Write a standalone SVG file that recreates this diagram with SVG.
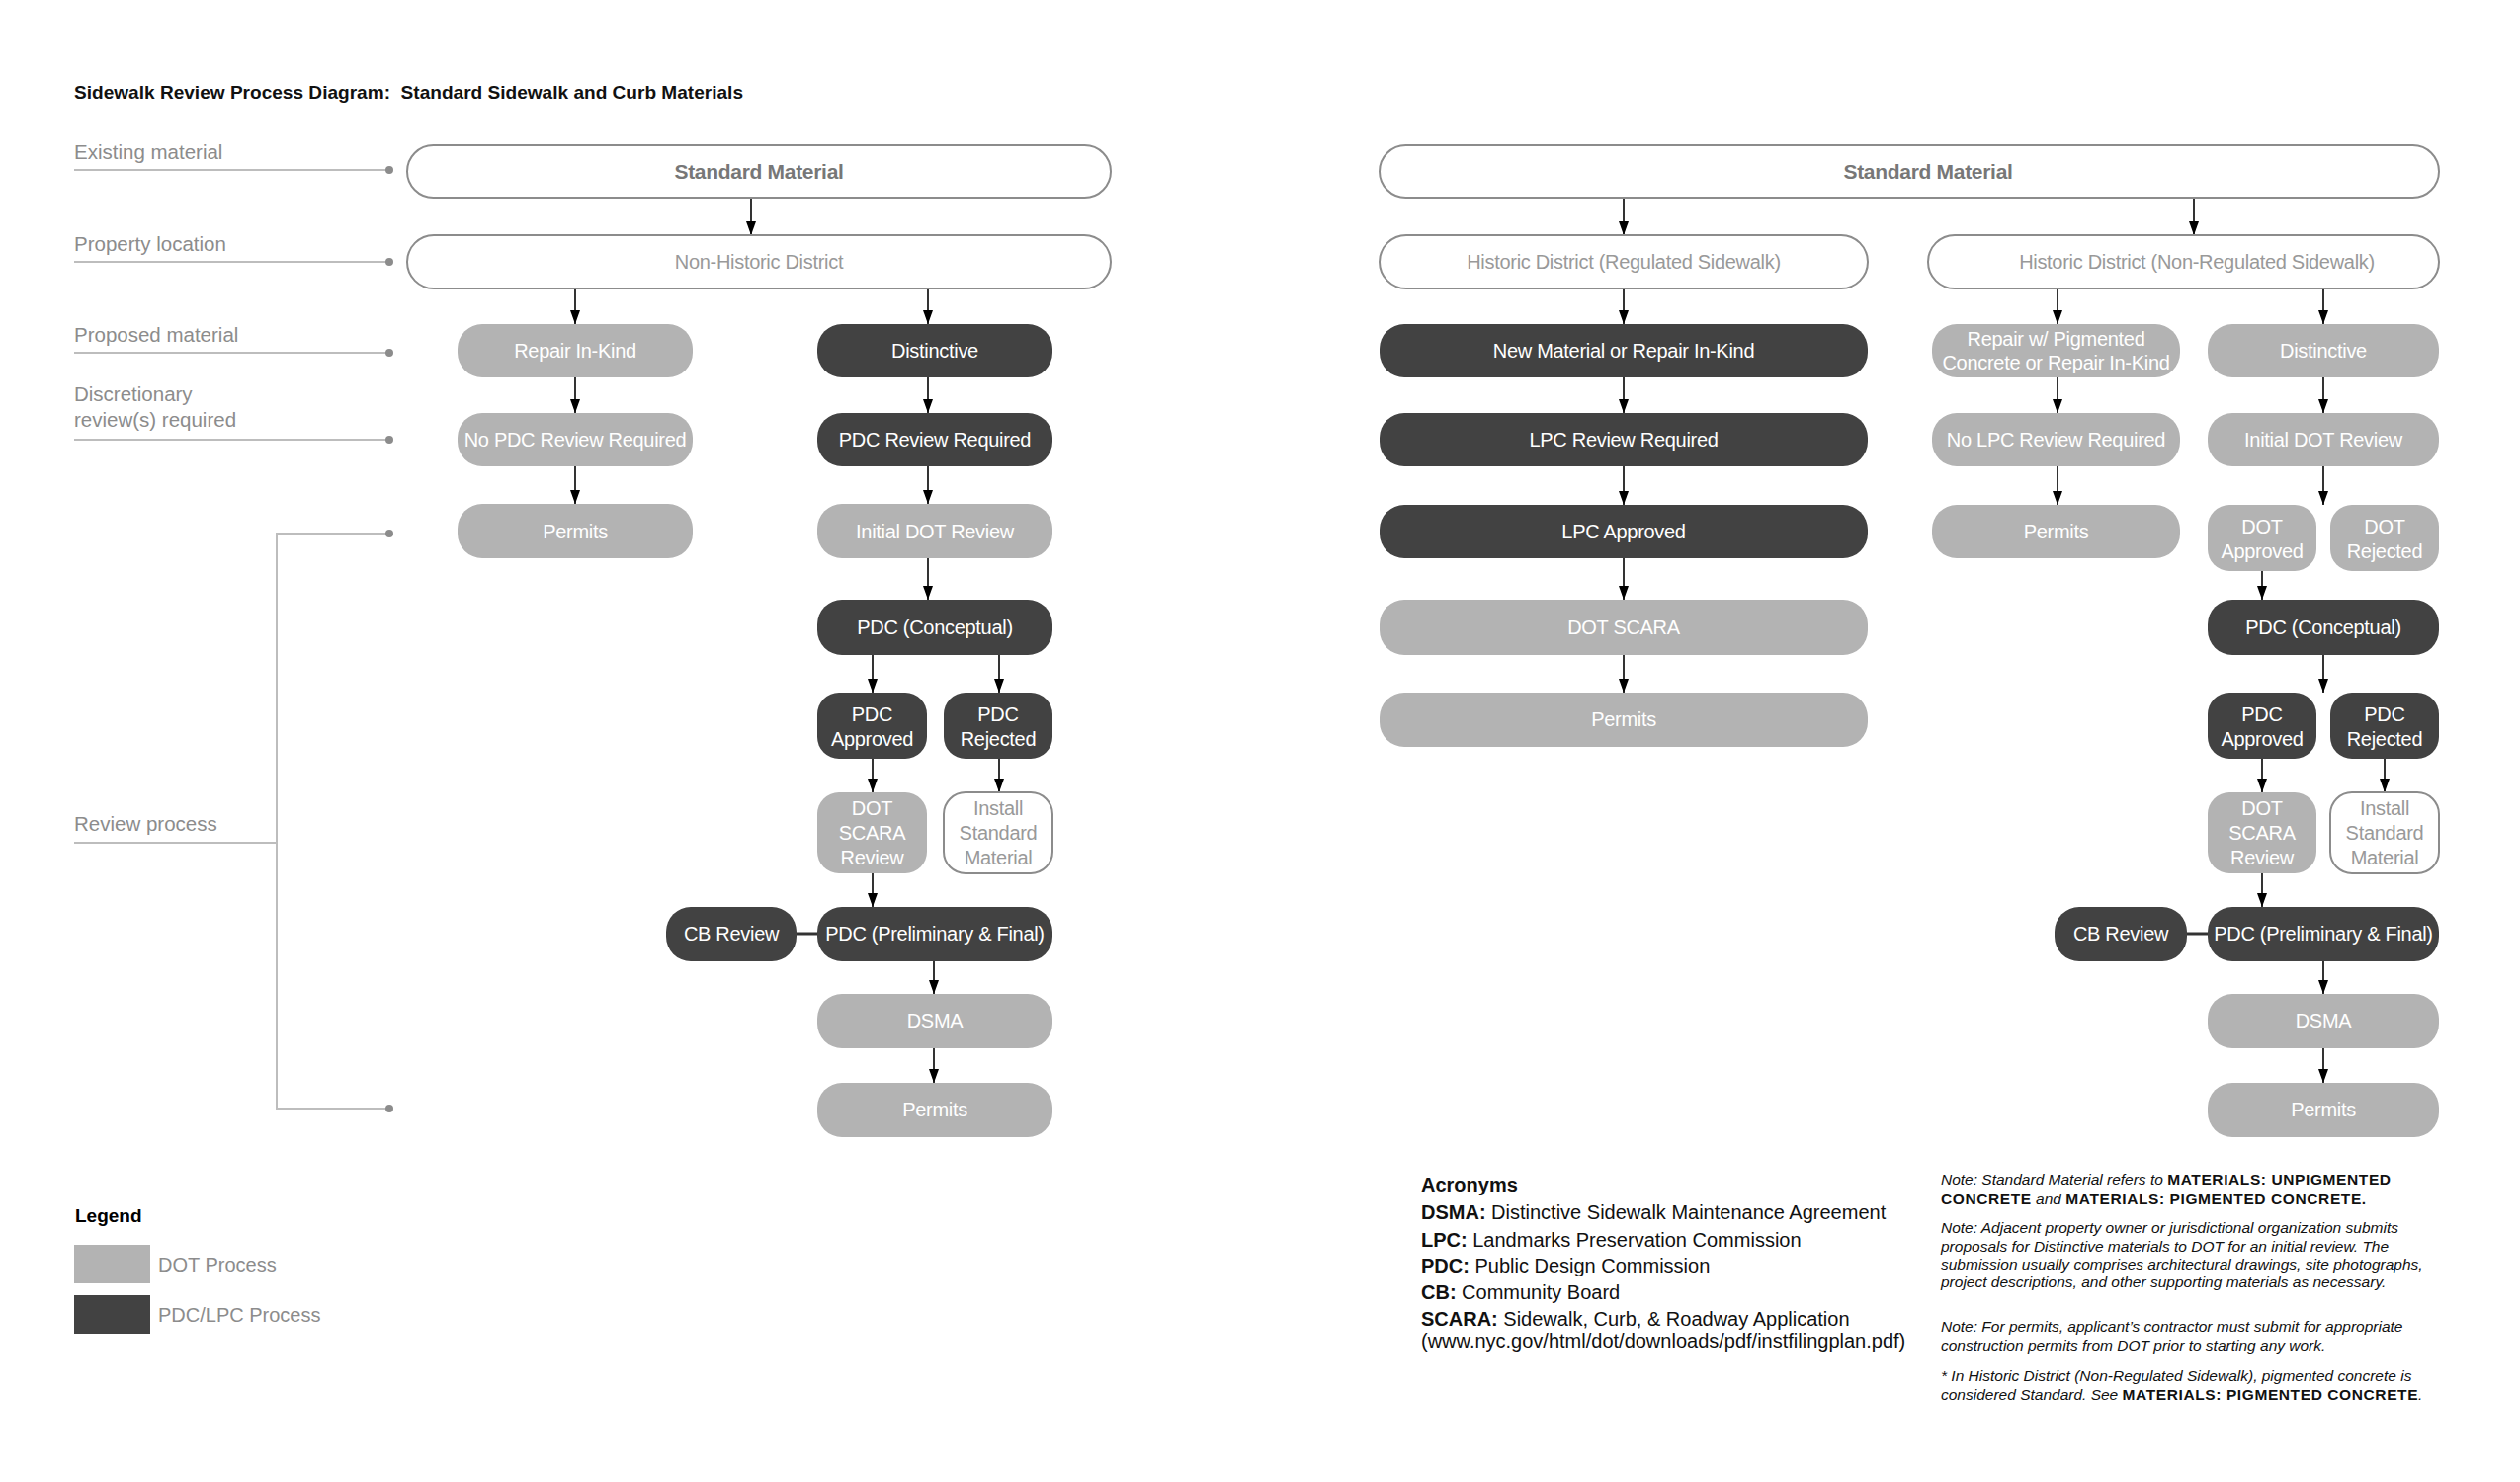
<svg xmlns="http://www.w3.org/2000/svg" width="2550" height="1500" viewBox="0 0 2550 1500">
<defs>
<marker id="ah" viewBox="0 0 14 10" markerWidth="14" markerHeight="10" refX="14" refY="5" orient="auto" markerUnits="userSpaceOnUse"><path d="M0,0 L14,5 L0,10 z" fill="#000"/></marker>
<style>
text{font-family:"Liberation Sans",Arial,sans-serif}
.title{font-size:19px;font-weight:bold;fill:#111}
.lbl{font-size:20.5px;fill:#8c8c8c}
.gl{stroke:#bdbdbd;stroke-width:2;fill:none}
.dot{fill:#8c8c8c}
.g rect{fill:#b3b3b3}
.d rect{fill:#424242}
.o rect{fill:#fff;stroke:#8c8c8c;stroke-width:2}
.t{font-size:20px;text-anchor:middle;fill:#fff;letter-spacing:-0.3px}
.o .t{fill:#999}
.o .tb{font-weight:bold;fill:#777;font-size:21px}
.arr{stroke:#000;stroke-width:1.6;fill:none;marker-end:url(#ah)}
.cb{stroke:#333;stroke-width:3}
.leg{font-size:20px;fill:#8c8c8c}
.hd{font-size:19px;font-weight:bold;fill:#000}
.ac{font-size:20px;fill:#111}
.ac tspan.b{font-weight:bold}
.nt{font-size:15.5px;font-style:italic;fill:#111}
.nt tspan.b{font-style:normal;font-weight:bold;letter-spacing:0.6px}
</style>
</defs>
<rect width="2550" height="1500" fill="#fff"/>

<text class="title" x="75" y="100" textLength="677" lengthAdjust="spacingAndGlyphs">Sidewalk Review Process Diagram:&#160; Standard Sidewalk and Curb Materials</text>

<g id="row-labels">
<text class="lbl" x="75" y="161">Existing material</text>
<line class="gl" x1="75" y1="172" x2="394" y2="172"/><circle class="dot" cx="394" cy="172" r="4"/>
<text class="lbl" x="75" y="254">Property location</text>
<line class="gl" x1="75" y1="265" x2="394" y2="265"/><circle class="dot" cx="394" cy="265" r="4"/>
<text class="lbl" x="75" y="346">Proposed material</text>
<line class="gl" x1="75" y1="357" x2="394" y2="357"/><circle class="dot" cx="394" cy="357" r="4"/>
<text class="lbl" x="75" y="406">Discretionary</text>
<text class="lbl" x="75" y="432">review(s) required</text>
<line class="gl" x1="75" y1="445" x2="394" y2="445"/><circle class="dot" cx="394" cy="445" r="4"/>
<text class="lbl" x="75" y="841">Review process</text>
<line class="gl" x1="75" y1="853" x2="280" y2="853"/>
<path class="gl" d="M394,540 H280 V1122 H394"/>
<circle class="dot" cx="394" cy="540" r="4"/><circle class="dot" cx="394" cy="1122" r="4"/>
</g>

<g id="connectors">
<line class="arr" x1="760" y1="200" x2="760" y2="238"/>
<line class="arr" x1="582" y1="292" x2="582" y2="328"/>
<line class="arr" x1="939" y1="292" x2="939" y2="328"/>
<line class="arr" x1="582" y1="382" x2="582" y2="418"/>
<line class="arr" x1="939" y1="382" x2="939" y2="418"/>
<line class="arr" x1="582" y1="472" x2="582" y2="510"/>
<line class="arr" x1="939" y1="472" x2="939" y2="510"/>
<line class="arr" x1="939" y1="565" x2="939" y2="607"/>
<line class="arr" x1="883" y1="663" x2="883" y2="701"/>
<line class="arr" x1="1011" y1="663" x2="1011" y2="701"/>
<line class="arr" x1="883" y1="768" x2="883" y2="802"/>
<line class="arr" x1="1011" y1="768" x2="1011" y2="802"/>
<line class="arr" x1="883" y1="884" x2="883" y2="918"/>
<line class="cb" x1="806" y1="945" x2="827" y2="945"/>
<line class="arr" x1="945" y1="973" x2="945" y2="1006"/>
<line class="arr" x1="945" y1="1061" x2="945" y2="1096"/>

<line class="arr" x1="1643" y1="200" x2="1643" y2="238"/>
<line class="arr" x1="2220" y1="200" x2="2220" y2="238"/>
<line class="arr" x1="1643" y1="292" x2="1643" y2="328"/>
<line class="arr" x1="2082" y1="292" x2="2082" y2="328"/>
<line class="arr" x1="2351" y1="292" x2="2351" y2="328"/>
<line class="arr" x1="1643" y1="382" x2="1643" y2="418"/>
<line class="arr" x1="2082" y1="382" x2="2082" y2="418"/>
<line class="arr" x1="2351" y1="382" x2="2351" y2="418"/>
<line class="arr" x1="1643" y1="472" x2="1643" y2="511"/>
<line class="arr" x1="2082" y1="472" x2="2082" y2="511"/>
<line class="arr" x1="2351" y1="472" x2="2351" y2="511"/>
<line class="arr" x1="1643" y1="565" x2="1643" y2="607"/>
<line class="arr" x1="2289" y1="578" x2="2289" y2="607"/>
<line class="arr" x1="1643" y1="663" x2="1643" y2="701"/>
<line class="arr" x1="2351" y1="663" x2="2351" y2="701"/>
<line class="arr" x1="2289" y1="768" x2="2289" y2="802"/>
<line class="arr" x1="2413" y1="768" x2="2413" y2="802"/>
<line class="arr" x1="2289" y1="884" x2="2289" y2="918"/>
<line class="cb" x1="2213" y1="945" x2="2234" y2="945"/>
<line class="arr" x1="2351" y1="973" x2="2351" y2="1006"/>
<line class="arr" x1="2351" y1="1061" x2="2351" y2="1096"/>
</g>

<!-- Left section nodes -->
<g id="n-std-l" class="o"><rect x="412" y="147" width="712" height="53" rx="26.5"/><text class="t tb" x="768" y="181">Standard Material</text></g>
<g id="n-nonhist" class="o"><rect x="412" y="238" width="712" height="54" rx="27"/><text class="t" x="768" y="272">Non-Historic District</text></g>
<g id="n-repair-l" class="g"><rect x="463" y="328" width="238" height="54" rx="25"/><text class="t" x="582" y="362">Repair In-Kind</text></g>
<g id="n-dist-l" class="d"><rect x="827" y="328" width="238" height="54" rx="25"/><text class="t" x="946" y="362">Distinctive</text></g>
<g id="n-nopdc" class="g"><rect x="463" y="418" width="238" height="54" rx="25"/><text class="t" x="582" y="452">No PDC Review Required</text></g>
<g id="n-pdcreq" class="d"><rect x="827" y="418" width="238" height="54" rx="25"/><text class="t" x="946" y="452">PDC Review Required</text></g>
<g id="n-permits-l1" class="g"><rect x="463" y="510" width="238" height="55" rx="25"/><text class="t" x="582" y="545">Permits</text></g>
<g id="n-initdot-l" class="g"><rect x="827" y="510" width="238" height="55" rx="25"/><text class="t" x="946" y="545">Initial DOT Review</text></g>
<g id="n-conc-l" class="d"><rect x="827" y="607" width="238" height="56" rx="25"/><text class="t" x="946" y="642">PDC (Conceptual)</text></g>
<g id="n-pdcappr-l" class="d"><rect x="827" y="701" width="111" height="67" rx="22"/><text class="t" x="882.5" y="730">PDC</text><text class="t" x="882.5" y="755">Approved</text></g>
<g id="n-pdcrej-l" class="d"><rect x="955" y="701" width="110" height="67" rx="22"/><text class="t" x="1010" y="730">PDC</text><text class="t" x="1010" y="755">Rejected</text></g>
<g id="n-dotscara-l" class="g"><rect x="827" y="802" width="111" height="82" rx="22"/><text class="t" x="882.5" y="825">DOT</text><text class="t" x="882.5" y="850">SCARA</text><text class="t" x="882.5" y="875">Review</text></g>
<g id="n-install-l" class="o"><rect x="955" y="802" width="110" height="82" rx="22"/><text class="t" x="1010" y="825">Install</text><text class="t" x="1010" y="850">Standard</text><text class="t" x="1010" y="875">Material</text></g>
<g id="n-cb-l" class="d"><rect x="674" y="918" width="132" height="55" rx="25"/><text class="t" x="740" y="952">CB Review</text></g>
<g id="n-prelim-l" class="d"><rect x="827" y="918" width="238" height="55" rx="25"/><text class="t" x="946" y="952">PDC (Preliminary &amp; Final)</text></g>
<g id="n-dsma-l" class="g"><rect x="827" y="1006" width="238" height="55" rx="25"/><text class="t" x="946" y="1040">DSMA</text></g>
<g id="n-permits-l2" class="g"><rect x="827" y="1096" width="238" height="55" rx="25"/><text class="t" x="946" y="1130">Permits</text></g>

<!-- Right section nodes -->
<g id="n-std-r" class="o"><rect x="1396" y="147" width="1072" height="53" rx="26.5"/><text class="t tb" x="1951" y="181">Standard Material</text></g>
<g id="n-reg" class="o"><rect x="1396" y="238" width="494" height="54" rx="27"/><text class="t" x="1643" y="272">Historic District (Regulated Sidewalk)</text></g>
<g id="n-nonreg" class="o"><rect x="1951" y="238" width="517" height="54" rx="27"/><text class="t" x="2223" y="272">Historic District (Non-Regulated Sidewalk)</text></g>
<g id="n-newmat" class="d"><rect x="1396" y="328" width="494" height="54" rx="25"/><text class="t" x="1643" y="362">New Material or Repair In-Kind</text></g>
<g id="n-lpcreq" class="d"><rect x="1396" y="418" width="494" height="54" rx="25"/><text class="t" x="1643" y="452">LPC Review Required</text></g>
<g id="n-lpcappr" class="d"><rect x="1396" y="511" width="494" height="54" rx="25"/><text class="t" x="1643" y="545">LPC Approved</text></g>
<g id="n-dotscara-r1" class="g"><rect x="1396" y="607" width="494" height="56" rx="25"/><text class="t" x="1643" y="642">DOT SCARA</text></g>
<g id="n-permits-r1" class="g"><rect x="1396" y="701" width="494" height="55" rx="25"/><text class="t" x="1643" y="735">Permits</text></g>
<g id="n-repairpig" class="g"><rect x="1955" y="328" width="251" height="54" rx="25"/><text class="t" x="2080.5" y="350">Repair w/ Pigmented</text><text class="t" x="2080.5" y="374">Concrete or Repair In-Kind</text></g>
<g id="n-dist-r" class="g"><rect x="2234" y="328" width="234" height="54" rx="25"/><text class="t" x="2351" y="362">Distinctive</text></g>
<g id="n-nolpc" class="g"><rect x="1955" y="418" width="251" height="54" rx="25"/><text class="t" x="2080.5" y="452">No LPC Review Required</text></g>
<g id="n-initdot-r" class="g"><rect x="2234" y="418" width="234" height="54" rx="25"/><text class="t" x="2351" y="452">Initial DOT Review</text></g>
<g id="n-permits-r2" class="g"><rect x="1955" y="511" width="251" height="54" rx="25"/><text class="t" x="2080.5" y="545">Permits</text></g>
<g id="n-dotappr" class="g"><rect x="2234" y="511" width="110" height="67" rx="22"/><text class="t" x="2289" y="540">DOT</text><text class="t" x="2289" y="565">Approved</text></g>
<g id="n-dotrej" class="g"><rect x="2358" y="511" width="110" height="67" rx="22"/><text class="t" x="2413" y="540">DOT</text><text class="t" x="2413" y="565">Rejected</text></g>
<g id="n-conc-r" class="d"><rect x="2234" y="607" width="234" height="56" rx="25"/><text class="t" x="2351" y="642">PDC (Conceptual)</text></g>
<g id="n-pdcappr-r" class="d"><rect x="2234" y="701" width="110" height="67" rx="22"/><text class="t" x="2289" y="730">PDC</text><text class="t" x="2289" y="755">Approved</text></g>
<g id="n-pdcrej-r" class="d"><rect x="2358" y="701" width="110" height="67" rx="22"/><text class="t" x="2413" y="730">PDC</text><text class="t" x="2413" y="755">Rejected</text></g>
<g id="n-dotscara-r2" class="g"><rect x="2234" y="802" width="110" height="82" rx="22"/><text class="t" x="2289" y="825">DOT</text><text class="t" x="2289" y="850">SCARA</text><text class="t" x="2289" y="875">Review</text></g>
<g id="n-install-r" class="o"><rect x="2358" y="802" width="110" height="82" rx="22"/><text class="t" x="2413" y="825">Install</text><text class="t" x="2413" y="850">Standard</text><text class="t" x="2413" y="875">Material</text></g>
<g id="n-cb-r" class="d"><rect x="2079" y="918" width="134" height="55" rx="25"/><text class="t" x="2146" y="952">CB Review</text></g>
<g id="n-prelim-r" class="d"><rect x="2234" y="918" width="234" height="55" rx="25"/><text class="t" x="2351" y="952">PDC (Preliminary &amp; Final)</text></g>
<g id="n-dsma-r" class="g"><rect x="2234" y="1006" width="234" height="55" rx="25"/><text class="t" x="2351" y="1040">DSMA</text></g>
<g id="n-permits-r3" class="g"><rect x="2234" y="1096" width="234" height="55" rx="25"/><text class="t" x="2351" y="1130">Permits</text></g>

<g id="legend">
<text class="hd" x="76" y="1237">Legend</text>
<rect x="75" y="1260" width="77" height="39" fill="#b3b3b3"/>
<text class="leg" x="160" y="1287">DOT Process</text>
<rect x="75" y="1311" width="77" height="39" fill="#424242"/>
<text class="leg" x="160" y="1338">PDC/LPC Process</text>
</g>

<g id="acronyms">
<text class="ac" x="1438" y="1206"><tspan class="b">Acronyms</tspan></text>
<text class="ac" x="1438" y="1234"><tspan class="b">DSMA:</tspan> Distinctive Sidewalk Maintenance Agreement</text>
<text class="ac" x="1438" y="1262"><tspan class="b">LPC:</tspan> Landmarks Preservation Commission</text>
<text class="ac" x="1438" y="1288"><tspan class="b">PDC:</tspan> Public Design Commission</text>
<text class="ac" x="1438" y="1315"><tspan class="b">CB:</tspan> Community Board</text>
<text class="ac" x="1438" y="1342"><tspan class="b">SCARA:</tspan> Sidewalk, Curb, &amp; Roadway Application</text>
<text class="ac" x="1438" y="1364">(www.nyc.gov/html/dot/downloads/pdf/instfilingplan.pdf)</text>
</g>

<g id="notes">
<text class="nt" x="1964" y="1199">Note: Standard Material refers to <tspan class="b">MATERIALS: UNPIGMENTED</tspan></text>
<text class="nt" x="1964" y="1219"><tspan class="b">CONCRETE</tspan> and <tspan class="b">MATERIALS: PIGMENTED CONCRETE.</tspan></text>
<text class="nt" x="1964" y="1248">Note: Adjacent property owner or jurisdictional organization submits</text>
<text class="nt" x="1964" y="1267">proposals for Distinctive materials to DOT for an initial review. The</text>
<text class="nt" x="1964" y="1285">submission usually comprises architectural drawings, site photographs,</text>
<text class="nt" x="1964" y="1303">project descriptions, and other supporting materials as necessary.</text>
<text class="nt" x="1964" y="1348">Note: For permits, applicant’s contractor must submit for appropriate</text>
<text class="nt" x="1964" y="1367">construction permits from DOT prior to starting any work.</text>
<text class="nt" x="1964" y="1398">* In Historic District (Non-Regulated Sidewalk), pigmented concrete is</text>
<text class="nt" x="1964" y="1417">considered Standard. See <tspan class="b">MATERIALS: PIGMENTED CONCRETE</tspan>.</text>
</g>
</svg>
